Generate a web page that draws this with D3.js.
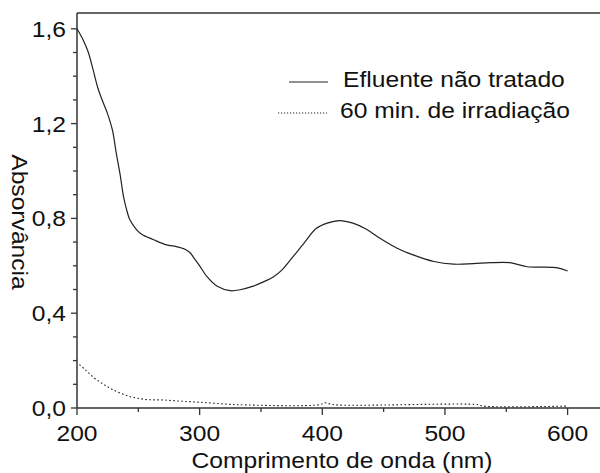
<!DOCTYPE html>
<html><head><meta charset="utf-8">
<script src="https://cdn.jsdelivr.net/npm/d3@7/dist/d3.min.js"></script>
<style>body{margin:0;background:#fff}svg{display:block}text{font-family:"Liberation Sans",Arial,sans-serif;fill:#111}</style>
</head><body>
<svg id="c" width="600" height="473"></svg>
<script>
const solidNm = [200,205,209,213,217,221,225,229,232,235,238,240.5,243,248.5,253,262,273,281,288,292,295,300,306,314,325,333,343,352,360,367,374,385,395,404,414,425,436,447,461,474,491,507,523,537,553,567,591,600];
const solidA  = [1.60,1.553,1.504,1.43,1.35,1.293,1.24,1.17,1.075,0.99,0.89,0.836,0.795,0.753,0.732,0.711,0.688,0.681,0.67,0.656,0.636,0.60,0.554,0.515,0.495,0.499,0.513,0.532,0.553,0.582,0.625,0.695,0.757,0.78,0.791,0.78,0.754,0.716,0.674,0.646,0.618,0.607,0.609,0.613,0.613,0.596,0.592,0.578];
const dotNm = [202,207,214,222,229,242,256,270,284,298,312,331,398,402,409,527,531,600];
const dotA  = [0.183,0.16,0.127,0.099,0.078,0.05,0.036,0.034,0.029,0.025,0.02,0.014,0.014,0.022,0.014,0.014,0.008,0.008];
const xTicks = [200,300,400,500,600];
const xMinor = [250,350,450,550];
const yTicks = [0,0.4,0.8,1.2,1.6];
const yMinor = [0.1,0.2,0.3,0.5,0.6,0.7,0.9,1.0,1.1,1.3,1.4,1.5];
const seriesNames = ["Efluente não tratado","60 min. de irradiação"];
const xTitle = "Comprimento de onda (nm)";
const yTitle = "Absorvância";

const svg = d3.select("#c");
const L=77, R=602, T=13, B=408;
const x = d3.scaleLinear().domain([200, 200+(R-L)/1.2265]).range([L,R]);
const y = d3.scaleLinear().domain([0, (B-T)/237]).range([B,T]);
const fmt = d => d3.format(".1f")(d).replace(".", ",");
const SX = 1.12, FS = 22;
const ink = "#222";

svg.append("line").attr("x1",L).attr("x2",R).attr("y1",T).attr("y2",T).attr("stroke","#333").attr("stroke-width",1.5);

const gx = svg.append("g").attr("transform",`translate(0,${B})`);
gx.append("line").attr("x1",L).attr("x2",R).attr("stroke","#333").attr("stroke-width",1.5);
gx.selectAll(".mj").data(xTicks).join("line").attr("x1",d=>x(d)).attr("x2",d=>x(d)).attr("y1",0).attr("y2",7).attr("stroke","#333").attr("stroke-width",1.3);
gx.selectAll(".mn").data(xMinor).join("line").attr("x1",d=>x(d)).attr("x2",d=>x(d)).attr("y1",0).attr("y2",4).attr("stroke","#333").attr("stroke-width",1.3);
gx.selectAll(".lb").data(xTicks).join("text")
  .attr("transform",d=>`translate(${x(d)},33) scale(${SX},1)`)
  .attr("text-anchor","middle").attr("font-size",FS).text(d=>d);

const gy = svg.append("g").attr("transform",`translate(${L},0)`);
gy.append("line").attr("y1",T).attr("y2",B).attr("stroke","#333").attr("stroke-width",1.5);
gy.selectAll(".mj").data(yTicks).join("line").attr("y1",d=>y(d)).attr("y2",d=>y(d)).attr("x1",0).attr("x2",-6).attr("stroke","#333").attr("stroke-width",1.3);
gy.selectAll(".mn").data(yMinor).join("line").attr("y1",d=>y(d)).attr("y2",d=>y(d)).attr("x1",0).attr("x2",-4).attr("stroke","#333").attr("stroke-width",1.3);
gy.selectAll(".lb").data(yTicks).join("text")
  .attr("transform",d=>`translate(-11,${y(d)+8}) scale(${SX},1)`)
  .attr("text-anchor","end").attr("font-size",FS).text(fmt);

svg.append("text").attr("transform",`translate(342,468) scale(${SX},1)`).attr("text-anchor","middle").attr("font-size",FS).text(xTitle);
svg.append("text").attr("transform",`translate(12,222) rotate(90) scale(${SX},1)`).attr("text-anchor","middle").attr("font-size",FS).text(yTitle);

const line = d3.line().x(d=>x(d[0])).y(d=>y(d[1])).curve(d3.curveCatmullRom.alpha(0.5));
svg.append("path").datum(solidNm.map((n,i)=>[n,solidA[i]])).attr("d",line)
  .attr("fill","none").attr("stroke",ink).attr("stroke-width",1.2);
svg.append("path").datum(dotNm.map((n,i)=>[n,dotA[i]])).attr("d",line)
  .attr("fill","none").attr("stroke",ink).attr("stroke-width",1.1).attr("stroke-dasharray","1.6,2.4");

svg.append("line").attr("x1",289).attr("x2",328).attr("y1",82).attr("y2",82).attr("stroke",ink).attr("stroke-width",1.2);
svg.append("text").attr("transform",`translate(343,87) scale(${SX},1)`).attr("font-size",FS).text(seriesNames[0]);
svg.append("line").attr("x1",278).attr("x2",327).attr("y1",113).attr("y2",113).attr("stroke",ink).attr("stroke-width",1.1).attr("stroke-dasharray","1.2,1.8");
svg.append("text").attr("transform",`translate(340,118) scale(${SX},1)`).attr("font-size",FS).text(seriesNames[1]);
</script>
</body></html>
